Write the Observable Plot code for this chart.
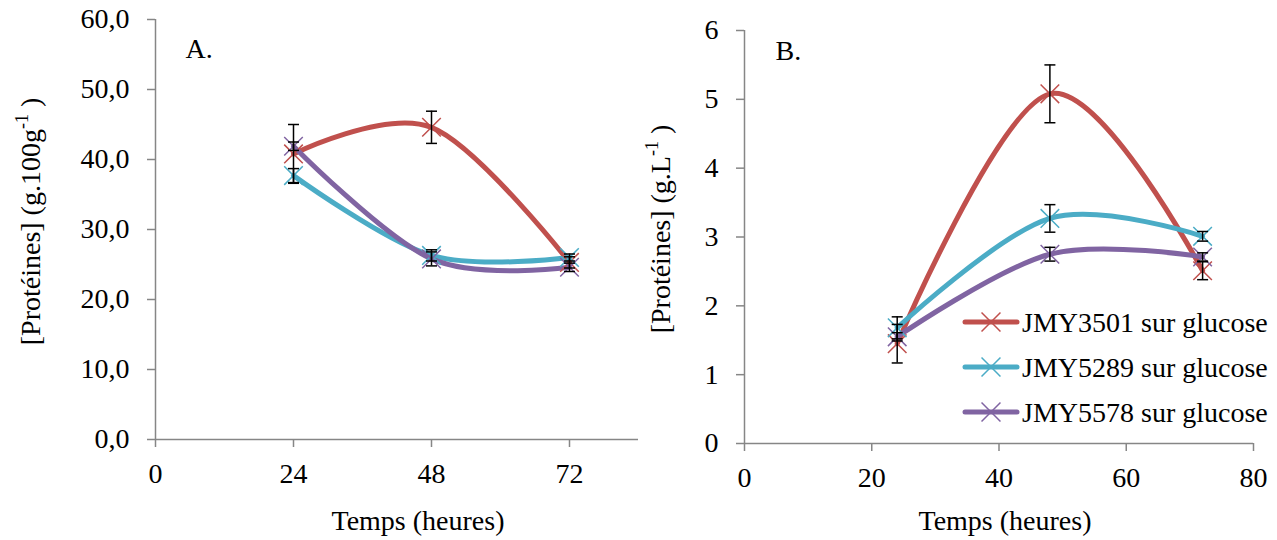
<!DOCTYPE html>
<html>
<head>
<meta charset="utf-8">
<script src="https://cdn.jsdelivr.net/npm/d3@7"></script>
<script src="https://cdn.jsdelivr.net/npm/@observablehq/plot@0.6"></script>
<style>
  html, body { margin: 0; padding: 0; background: #fff; }
  #wrap { position: relative; width: 1277px; height: 540px; display: flex; font-family: "Liberation Serif", "Times New Roman", serif; }
  #legend { position: absolute; left: 960px; top: 295px; }
</style>
</head>
<body>
<div id="wrap"></div>
<script>
// ---- Data ----
const hours = [24, 48, 72];
const series = ["JMY3501 sur glucose", "JMY5289 sur glucose", "JMY5578 sur glucose"];
const colors = ["#C0504D", "#4BACC6", "#8064A2"];

// Panel A : [Protéines] (g.100g-1)
const protA_JMY3501 = [40.8, 44.6, 25.3];
const protA_JMY5289 = [37.7, 26.3, 26.0];
const protA_JMY5578 = [41.9, 25.8, 24.6];
const errA_JMY3501 = [4.2, 2.3, 0.8];
const errA_JMY5289 = [1.0, 0.8, 0.5];
const errA_JMY5578 = [0.6, 1.0, 0.6];

// Panel B : [Protéines] (g.L-1)
const protB_JMY3501 = [1.45, 5.08, 2.51];
const protB_JMY5289 = [1.68, 3.27, 3.01];
const protB_JMY5578 = [1.55, 2.75, 2.71];
const errB_JMY3501 = [0.28, 0.42, 0.13];
const errB_JMY5289 = [0.16, 0.20, 0.07];
const errB_JMY5578 = [0.06, 0.10, 0.06];

const xTicksA = [0, 24, 48, 72];
const yTicksA = [0, 10, 20, 30, 40, 50, 60];
const xTicksB = [0, 20, 40, 60, 80];
const yTicksB = [0, 1, 2, 3, 4, 5, 6];

const xLabel = "Temps (heures)";
const yLabelA = "[Protéines] (g.100g";
const yLabelB = "[Protéines] (g.L";

// ---- Build rows ----
function rows(valsList, errsList) {
  const out = [];
  series.forEach((s, i) => {
    hours.forEach((t, j) => out.push({s, t, v: valsList[i][j], e: errsList[i][j]}));
  });
  return out;
}
const dataA = rows([protA_JMY3501, protA_JMY5289, protA_JMY5578], [errA_JMY3501, errA_JMY5289, errA_JMY5578]);
const dataB = rows([protB_JMY3501, protB_JMY5289, protB_JMY5578], [errB_JMY3501, errB_JMY5289, errB_JMY5578]);
const caps = d => d.flatMap(r => [{t: r.t, y: r.v - r.e}, {t: r.t, y: r.v + r.e}]);

const capSymbol = { draw(ctx) { ctx.moveTo(-5.5, 0); ctx.lineTo(5.5, 0); } };
const gray = "#868686";
const font = "'Liberation Serif', 'Times New Roman', serif";

function panel({data, width, margins, xDomain, yDomain, xTicks, yTicks, yFmt, letter, letterDx, letterDy, xlabDx, xlabDy, ylab, ylabDx, ylabDy}) {
  const svg = Plot.plot({
    width, height: 540,
    marginLeft: margins[0], marginRight: margins[1], marginTop: margins[2], marginBottom: margins[3],
    x: {domain: xDomain},
    y: {domain: yDomain},
    color: {domain: series, range: colors},
    style: {fontFamily: font, fontSize: "28px", background: "white", color: "black", overflow: "visible"},
    marks: [
      Plot.ruleY([0], {stroke: gray, strokeWidth: 1.5}),
      Plot.ruleX([0], {stroke: gray, strokeWidth: 1.5}),
      Plot.axisY({ticks: yTicks, tickFormat: yFmt, tickSize: 8, tickPadding: 18, stroke: gray, strokeWidth: 1.5, label: null, fontSize: 28}),
      Plot.axisX({ticks: xTicks, tickFormat: d => String(d), tickSize: 8, tickPadding: 16, stroke: gray, strokeWidth: 1.5, label: null, fontSize: 28}),
      Plot.line(data, {x: "t", y: "v", stroke: "s", strokeWidth: 5, curve: "cardinal", tension: 0}),
      Plot.dot(data, {x: "t", y: "v", stroke: "s", symbol: "times", r: 8.5, strokeWidth: 1.5}),
      Plot.ruleX(data, {x: "t", y1: d => d.v - d.e, y2: d => d.v + d.e, stroke: "black", strokeWidth: 1.5}),
      Plot.dot(caps(data), {x: "t", y: "y", symbol: capSymbol, fill: "none", stroke: "black", strokeWidth: 1.5}),
      Plot.text([letter], {frameAnchor: "top-left", textAnchor: "start", lineAnchor: "top", dx: letterDx, dy: letterDy, fontSize: 28}),
      Plot.text([xLabel], {frameAnchor: "bottom", textAnchor: "middle", lineAnchor: "middle", dx: xlabDx, dy: xlabDy, fontSize: 28}),
      Plot.text([ylab], {frameAnchor: "left", textAnchor: "middle", lineAnchor: "middle", rotate: -90, dx: ylabDx, dy: ylabDy, fontSize: 28})
    ]
  });
  // superscript "-1" in the y label
  svg.querySelectorAll("text").forEach(t => {
    if (t.textContent === ylab) {
      const sel = d3.select(t);
      sel.text(null);
      sel.append("tspan").text(ylab);
      sel.append("tspan").attr("dy", "-12").attr("font-size", "18px").text("-1");
      sel.append("tspan").attr("dy", "12").text(" )");
    }
  });
  return svg;
}

const fmtComma = d => d.toFixed(1).replace(".", ",");

const svgA = panel({
  data: dataA, width: 640, margins: [155, 2, 19, 101],
  xDomain: [0, 84], yDomain: [0, 60], xTicks: xTicksA, yTicks: yTicksA, yFmt: fmtComma,
  letter: "A.", letterDx: 30, letterDy: 19,
  xlabDx: 21, xlabDy: 82, ylab: yLabelA, ylabDx: -124, ylabDy: -8
});
const svgB = panel({
  data: dataB, width: 637, margins: [104, 24, 30, 97],
  xDomain: [0, 80], yDomain: [0, 6], xTicks: xTicksB, yTicks: yTicksB, yFmt: d => String(d),
  letter: "B.", letterDx: 31, letterDy: 10,
  xlabDx: 6, xlabDy: 78, ylab: yLabelB, ylabDx: -83, ylabDy: -8
});

const wrap = document.getElementById("wrap");
wrap.appendChild(svgA);
wrap.appendChild(svgB);

// ---- Legend (inside panel B) ----
const leg = d3.select(wrap).append("svg").attr("id", "legend").attr("width", 317).attr("height", 145)
  .style("font-family", font).style("font-size", "28px");
series.forEach((s, i) => {
  const g = leg.append("g").attr("transform", `translate(0, ${27 + 45 * i})`);
  g.append("line").attr("x1", 5).attr("x2", 57).attr("y1", 0).attr("y2", 0)
    .attr("stroke", colors[i]).attr("stroke-width", 5).attr("stroke-linecap", "round");
  g.append("path").attr("transform", "translate(31,0)")
    .attr("d", d3.symbol(d3.symbolTimes, 236)()).attr("stroke", colors[i]).attr("stroke-width", 1.5).attr("fill", "none");
  g.append("text").attr("x", 62).attr("y", 0).attr("dy", "0.35em").attr("fill", "black").text(s);
});
</script>
</body>
</html>
